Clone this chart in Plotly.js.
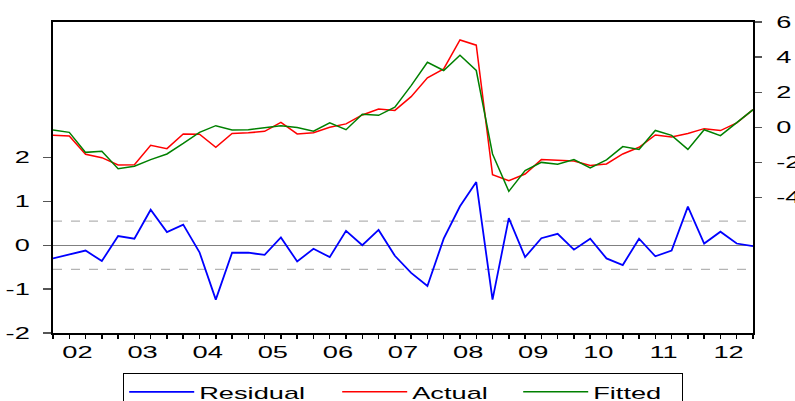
<!DOCTYPE html>
<html><head><meta charset="utf-8">
<script src="https://cdn.plot.ly/plotly-3.0.1.min.js"></script>
<style>html,body{margin:0;padding:0;background:#fff;}#chart{width:795px;height:401px;}</style>
</head><body><div id="chart"></div>
<script>
// Quarterly observations 2002Q1 - 2012Q4
const quarters = ['2002Q1','2002Q2','2002Q3','2002Q4','2003Q1','2003Q2','2003Q3','2003Q4',
  '2004Q1','2004Q2','2004Q3','2004Q4','2005Q1','2005Q2','2005Q3','2005Q4',
  '2006Q1','2006Q2','2006Q3','2006Q4','2007Q1','2007Q2','2007Q3','2007Q4',
  '2008Q1','2008Q2','2008Q3','2008Q4','2009Q1','2009Q2','2009Q3','2009Q4',
  '2010Q1','2010Q2','2010Q3','2010Q4','2011Q1','2011Q2','2011Q3','2011Q4',
  '2012Q1','2012Q2','2012Q3','2012Q4'];
const yearLabels = ['02','03','04','05','06','07','08','09','10','11','12'];
const leftTickVals = [-2, -1, 0, 1, 2];
const leftTickText = ['-2', '-1', '0', '1', '2'];
const rightTickVals = [-4, -2, 0, 2, 4, 6];
const rightTickText = ['-4', '-2', '0', '2', '4', '6'];

const actual = [-0.45,-0.49,-1.53,-1.72,-2.14,-2.12,-1.02,-1.21,-0.37,-0.39,-1.13,-0.34,
  -0.31,-0.22,0.29,-0.37,-0.30,0.01,0.20,0.71,1.05,0.97,1.75,2.82,
  3.33,4.98,4.68,-2.69,-3.03,-2.65,-1.83,-1.87,-1.91,-2.16,-2.08,-1.51,
  -1.13,-0.43,-0.54,-0.34,-0.07,-0.18,0.26,1.01];
const fitted = [-0.14,-0.28,-1.42,-1.36,-2.35,-2.21,-1.83,-1.51,-0.91,-0.28,0.10,-0.14,
  -0.13,-0.01,0.10,-0.01,-0.22,0.26,-0.13,0.75,0.69,1.15,2.38,3.71,
  3.24,4.11,3.24,-1.51,-3.64,-2.46,-1.99,-2.10,-1.83,-2.31,-1.85,-1.09,
  -1.25,-0.17,-0.45,-1.25,-0.13,-0.47,0.26,1.01];
const residual = [-0.30,-0.21,-0.12,-0.36,0.21,0.15,0.81,0.30,0.47,-0.16,-1.24,-0.17,
  -0.17,-0.22,0.18,-0.37,-0.08,-0.27,0.33,0.00,0.35,-0.24,-0.63,-0.93,
  0.15,0.89,1.44,-1.24,0.62,-0.27,0.16,0.26,-0.10,0.15,-0.30,-0.45,
  0.15,-0.25,-0.12,0.88,0.04,0.31,0.04,-0.02];
const residualSE = 0.55;

const obs = quarters.map((q, i) => i);
const yearStarts = obs.filter(i => quarters[i].endsWith('Q1'));
const yearMids = yearStarts.map(i => i + 1.5);

const TICK_FONT = {family: 'Liberation Sans, Arial, sans-serif', size: 16, color: '#000'};
const LEGEND_FONT = {family: 'Liberation Sans, Arial, sans-serif', size: 17, color: '#000'};
const TICK_STRETCH = 1.7;    // the reference uses horizontally widened lettering
const LEGEND_STRETCH = 1.6;

const traces = [
  {x: obs, y: residual, name: 'Residual', type: 'scatter', mode: 'lines', legendwidth: 133,
   line: {color: '#0000ff', width: 1.8}, xaxis: 'x', yaxis: 'y'},
  {x: obs, y: actual, name: 'Actual', type: 'scatter', mode: 'lines', legendwidth: 101,
   line: {color: '#ff0000', width: 1.5}, xaxis: 'x', yaxis: 'y2'},
  {x: obs, y: fitted, name: 'Fitted', type: 'scatter', mode: 'lines', legendwidth: 83,
   line: {color: '#008000', width: 1.5}, xaxis: 'x', yaxis: 'y2'}
];

const xr = [0, obs.length - 1];
const layout = {
  width: 795, height: 401,
  margin: {l: 53, r: 42, t: 22, b: 68, autoexpand: false},
  paper_bgcolor: '#fff', plot_bgcolor: '#fff',
  font: TICK_FONT,
  showlegend: true,
  legend: {orientation: 'h', x: 0.5, xanchor: 'center', y: -0.129, yanchor: 'top',
    bordercolor: '#000', borderwidth: 1.2, font: LEGEND_FONT, itemwidth: 65,
    traceorder: 'normal'},
  xaxis: {range: xr, showgrid: false, zeroline: false, showline: true, linecolor: '#000',
    linewidth: 2, mirror: true, tickmode: 'array', tickvals: yearMids, ticktext: yearLabels,
    ticks: 'outside', ticklen: 0, ticklabelstandoff: 4, tickfont: TICK_FONT,
    minor: {tickmode: 'linear', tick0: 0, dtick: 1, ticks: 'outside', ticklen: 4, tickwidth: 1.5, tickcolor: '#000', showgrid: false},
    fixedrange: true},
  xaxis2: {range: xr, overlaying: 'x', anchor: 'y', side: 'bottom', showgrid: false, zeroline: false,
    showline: false, tickmode: 'array', tickvals: yearStarts, showticklabels: false,
    ticks: 'outside', ticklen: 8, tickwidth: 1.5, tickcolor: '#000'},
  yaxis: {range: [-2, 5.09], tickmode: 'array', tickvals: leftTickVals, ticktext: leftTickText,
    showgrid: false, zeroline: true, zerolinecolor: '#808080', zerolinewidth: 1.5,
    showline: true, linecolor: '#000', linewidth: 2, ticks: 'outside', ticklen: 8, tickwidth: 1.5,
    tickcolor: '#555', ticklabelstandoff: 10, tickfont: TICK_FONT},
  yaxis2: {range: [-11.7, 6.0], overlaying: 'y', side: 'right', anchor: 'x',
    tickmode: 'array', tickvals: rightTickVals, ticktext: rightTickText,
    showgrid: false, zeroline: false,
    showline: true, linecolor: '#000', linewidth: 2, ticks: 'outside', ticklen: 7, tickwidth: 1.5,
    tickcolor: '#555', ticklabelstandoff: 11, tickfont: TICK_FONT},
  shapes: [residualSE, -residualSE].map(v => ({type: 'line', xref: 'paper', x0: 0, x1: 1,
    yref: 'y', y0: v, y1: v, line: {color: '#b4b4b4', width: 1.3, dash: 'dash'}, layer: 'below'}))
};

function widen(nodes, factor) {
  nodes.forEach(t => {
    const w = t.getComputedTextLength();
    if (w > 0) {
      t.setAttribute('textLength', (w * factor).toFixed(1));
      t.setAttribute('lengthAdjust', 'spacingAndGlyphs');
    }
  });
}

Plotly.newPlot('chart', traces, layout, {displayModeBar: false, staticPlot: true}).then(gd => {
  widen(gd.querySelectorAll('.xtick text, .ytick text, .y2tick text'), TICK_STRETCH);
  widen(gd.querySelectorAll('text.legendtext'), LEGEND_STRETCH);
});
</script>
</body></html>
